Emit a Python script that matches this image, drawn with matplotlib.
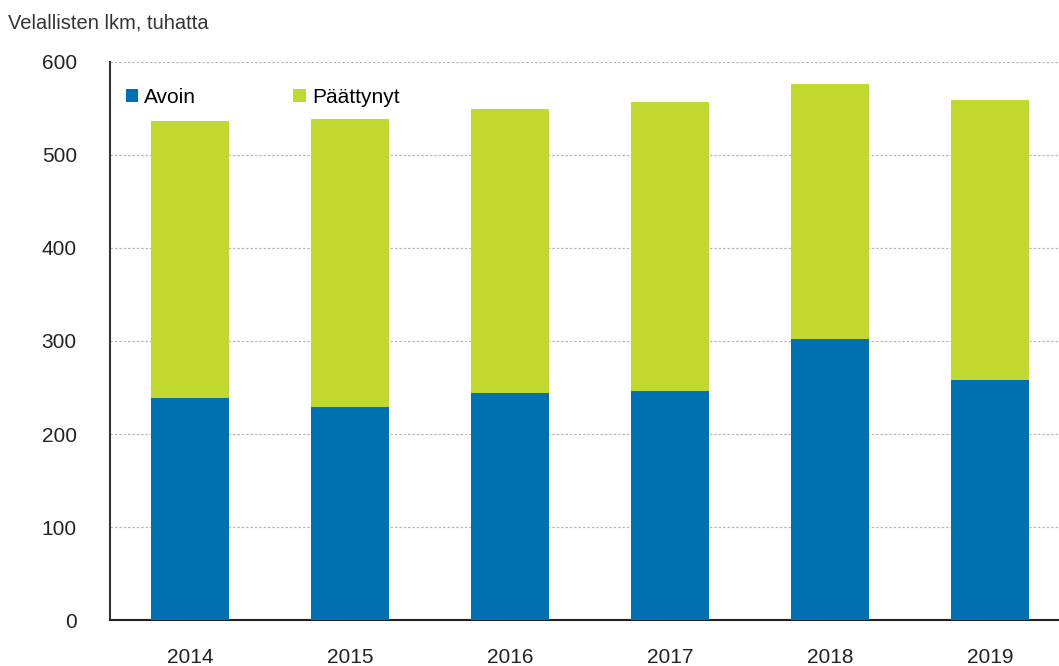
import matplotlib.pyplot as plt
import numpy as np

plt.rcParams['font.family'] = ['Liberation Sans', 'DejaVu Sans']

# Données
years = ['2014', '2015', '2016', '2017', '2018', '2019']
avoin = [239, 229, 244, 246, 302, 258]
total = [537, 539, 549, 557, 576, 559]
paattynyt = [t - a for t, a in zip(total, avoin)]

blue = '#0070B0'
green = '#C0D830'

fig = plt.figure(figsize=(10.59, 6.66), dpi=100)
ax = fig.add_axes([0.104, 0.069, 0.896, 0.838])

x = np.arange(len(years))
ax.bar(x, avoin, width=0.49, color=blue, label='Avoin', zorder=3)
ax.bar(x, paattynyt, width=0.49, bottom=avoin, color=green, label='Päättynyt', zorder=3)

ax.set_xlim(-0.5, 5.43)
ax.set_ylim(0, 600)
ax.set_yticks(range(0, 601, 100))
ax.set_xticks(x)
ax.set_xticklabels(years)
ax.tick_params(axis='both', length=0, labelsize=15, colors='#222222')
ax.tick_params(axis='y', pad=24)
ax.tick_params(axis='x', pad=20)

ax.grid(axis='y', color='#b8b8b8', linestyle=(0, (2, 1.5)), linewidth=0.9, zorder=0)
for s in ['top', 'right']:
    ax.spines[s].set_visible(False)
ax.spines['left'].set_color('#333333')
ax.spines['left'].set_linewidth(1.5)
ax.spines['bottom'].set_color('#222222')
ax.spines['bottom'].set_linewidth(1.5)

ax.legend(loc='upper left', ncol=2, frameon=False, fontsize=15,
          handlelength=0.6, handleheight=0.6, handletextpad=0.3,
          columnspacing=4.65, bbox_to_anchor=(0.001, 0.98), borderaxespad=0.3)

fig.text(0.008, 0.965, 'Velallisten lkm, tuhatta', fontsize=14.5, color='#333333',
         va='center', ha='left')

fig.savefig('out.png', dpi=100)
